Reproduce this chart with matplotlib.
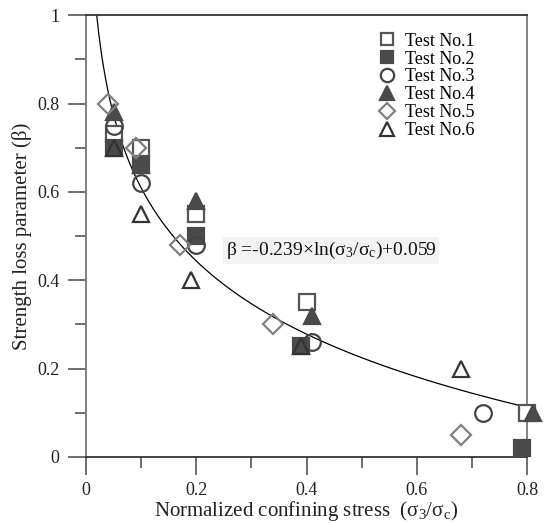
import numpy as np
import matplotlib
matplotlib.use("Agg")
import matplotlib.pyplot as plt
from matplotlib.ticker import MultipleLocator, FuncFormatter

plt.rcParams['font.family'] = ['Liberation Serif', 'DejaVu Serif']
plt.rcParams['mathtext.fontset'] = 'custom'
plt.rcParams['mathtext.rm'] = 'Liberation Serif'
plt.rcParams['mathtext.it'] = 'Liberation Serif'

# Data
t1_x = [0.05, 0.10, 0.20, 0.40, 0.80]
t1_y = [0.73, 0.70, 0.55, 0.35, 0.10]
t2_x = [0.05, 0.10, 0.20, 0.39, 0.79]
t2_y = [0.70, 0.66, 0.50, 0.25, 0.02]
t3_x = [0.05, 0.10, 0.20, 0.41, 0.72]
t3_y = [0.75, 0.62, 0.48, 0.26, 0.10]
t4_x = [0.05, 0.10, 0.20, 0.41, 0.81]
t4_y = [0.78, 0.66, 0.58, 0.32, 0.10]
t5_x = [0.04, 0.09, 0.17, 0.34, 0.68]
t5_y = [0.80, 0.70, 0.48, 0.30, 0.05]
t6_x = [0.05, 0.10, 0.19, 0.39, 0.68]
t6_y = [0.70, 0.55, 0.40, 0.25, 0.20]
fit_a = -0.239
fit_b = 0.059

fig = plt.figure(figsize=(5.44, 5.24), dpi=100)
ax = fig.add_axes([0.158, 0.128, 0.811, 0.843])

dark = '#4a4a4a'
kw = dict(linestyle='none', markeredgewidth=1.6, clip_on=False, zorder=3)
ax.plot(t1_x, t1_y, marker='s', ms=11, mfc='white', mec='#555555', label='Test No.1', **kw)
ax.plot(t2_x, t2_y, marker='s', ms=11, mfc=dark, mec=dark, label='Test No.2', **kw)
ax.plot(t3_x, t3_y, marker='o', ms=12, mfc='none', mec='#444444', label='Test No.3', **kw)
ax.plot(t4_x, t4_y, marker='^', ms=12, mfc=dark, mec=dark, label='Test No.4', **kw)
ax.plot(t5_x, t5_y, marker='D', ms=10, mfc='none', mec='#808080', label='Test No.5', **kw)
ax.plot(t6_x, t6_y, marker='^', ms=12, mfc='none', mec='#333333', label='Test No.6', **kw)

xs = np.linspace(0.0195, 0.8, 400)
ax.plot(xs, fit_a * np.log(xs) + fit_b, color='black', lw=0.9, zorder=2)

ax.text(0.444, 0.468, r'$\mathrm{\beta}$ =-0.239×ln(σ$_3$/σ$_\mathrm{c}$)+0.059',
        fontsize=14, ha='center', va='center', color='#111111',
        bbox=dict(facecolor='#f3f3f3', edgecolor='none', boxstyle='square,pad=0.15'))

def fmt(v, pos):
    if abs(v) < 1e-9:
        return '0'
    if abs(v - 1) < 1e-9:
        return '1'
    return '%.1f' % v

ax.set_xlim(0, 0.8)
ax.set_ylim(0, 1)
ax.xaxis.set_major_locator(MultipleLocator(0.2))
ax.xaxis.set_minor_locator(MultipleLocator(0.1))
ax.yaxis.set_major_locator(MultipleLocator(0.2))
ax.yaxis.set_minor_locator(MultipleLocator(0.1))
ax.xaxis.set_major_formatter(FuncFormatter(fmt))
ax.yaxis.set_major_formatter(FuncFormatter(fmt))
ax.tick_params(axis='both', which='major', direction='out', length=13, width=1.2,
               color='#555555', labelsize=13, labelcolor='#222222', pad=6)
ax.tick_params(axis='x', which='major', pad=5)
ax.tick_params(axis='both', which='minor', direction='out', length=8, width=1.2, color='#555555')
for s in ['left', 'right']:
    ax.spines[s].set_color('#777777')
    ax.spines[s].set_linewidth(1.3)
for s in ['top', 'bottom']:
    ax.spines[s].set_color('#333333')
    ax.spines[s].set_linewidth(1.3)

ax.set_xlabel('Normalized confining stress  (σ$_3$/σ$_\\mathrm{c}$)', fontsize=15, color='#222222', labelpad=0)
ax.set_ylabel('Strength loss parameter (β)', fontsize=15, color='#222222', labelpad=4)

leg = ax.legend(loc='upper right', bbox_to_anchor=(0.905, 0.985), frameon=False, fontsize=13,
                handlelength=1.0, handletextpad=0.5, labelspacing=0.05, borderaxespad=0.2,
                markerscale=0.8)

fig.savefig('out.png', dpi=100)
